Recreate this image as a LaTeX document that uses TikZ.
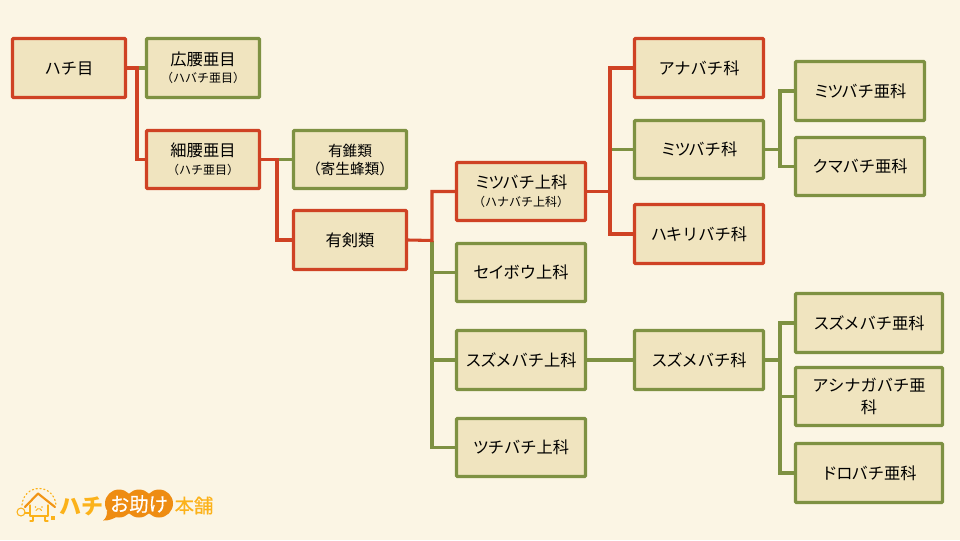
\documentclass[tikz,border=0pt]{standalone}
\usepackage{fontspec}
\setmainfont{Noto Sans CJK JP}
\newfontfamily\medf[FakeBold=0.5]{Noto Sans CJK JP}
\definecolor{bgc}{HTML}{FBF5E4}
\definecolor{boxc}{HTML}{F0E4BF}
\definecolor{redc}{HTML}{CF4224}
\definecolor{grnc}{HTML}{7E9142}
\definecolor{logod}{HTML}{EE8C12}
\definecolor{logoy}{HTML}{FBB21A}
\newcommand{\bigtxt}{\fontsize{12.2pt}{15pt}\selectfont}
\newcommand{\smalltxt}{\fontsize{9pt}{12pt}\selectfont}
\newcommand{\ka}{\kern-1.8pt }
\newcommand{\kb}{\kern-0.9pt }
\tikzset{
  x=0.75pt,y=-0.75pt,
  bx/.style={draw,fill=boxc,line width=2.3pt,inner sep=0pt,align=center,rounded corners=0.6pt,font=\bigtxt},
  rbox/.style={bx,draw=redc},
  gbox/.style={bx,draw=grnc},
  rl/.style={draw=redc,line width=2.3pt,line join=miter},
  gl/.style={draw=grnc,line width=2.3pt,line join=miter},
}
\newcommand{\bxnode}[7]{% style name x0 y0 x1 y1 text
  \node[#1,minimum width=(#5-#3-1)*0.75pt,minimum height=(#6-#4-1)*0.75pt] (#2) at ({(#3+#5)/2},{(#4+#6)/2}) {\vbox{\kern3pt\hbox{\begin{tabular}{@{}c@{}}#7\end{tabular}}}};}
\begin{document}
\begin{tikzpicture}
\useasboundingbox[fill=bgc] (0,0) rectangle (960,540);
% junctions
\coordinate (j1) at (137,68);
\coordinate (j2) at (277,159.5);
\coordinate (j3) at (432,240.5);
\coordinate (j4) at (610,191.5);
\coordinate (j5) at (780,149.5);
\coordinate (j6) at (780,360);
% boxes
\bxnode{rbox}{hachi}{12}{38}{126}{98}{ハチ目}
\bxnode{gbox}{kosi}{146}{38}{260}{98}{広腰亜目\\[-2.2pt]{\smalltxt （ハバチ亜目）}}
\bxnode{rbox}{sai}{146}{130}{260}{189}{細腰亜目\\[-2.2pt]{\smalltxt （ハチ亜目）}}
\bxnode{gbox}{yusui}{293}{130}{407}{189}{\fontsize{11pt}{15pt}\selectfont 有錐類\\[-1pt]\fontsize{11pt}{15pt}\selectfont （寄生蜂類）}
\bxnode{rbox}{yuken}{293}{210}{407}{270}{有剣類}
\bxnode{rbox}{mitsuj}{456}{162}{586}{221}{ミ\ka ツ\ka バチ上科\\[-2.2pt]{\smalltxt （ハナバチ上科）}}
\bxnode{gbox}{seibo}{456}{243}{586}{302}{セ\kb イ\kb ボウ上科}
\bxnode{gbox}{suzuj}{456}{330}{586}{390}{ス\kb ズ\kb メバチ上科}
\bxnode{gbox}{tsuchi}{456}{418}{586}{477}{ツ\kb チバチ上科}
\bxnode{rbox}{ana}{634}{38}{764}{98}{アナバチ科}
\bxnode{gbox}{mitsuk}{634}{120}{764}{179}{ミ\ka ツ\ka バチ科}
\bxnode{rbox}{hakiri}{634}{204}{764}{264}{ハ\kb キリバチ科}
\bxnode{gbox}{suzuk}{634}{330}{764}{390}{ス\kb ズ\kb メバチ科}
\bxnode{gbox}{mitsua}{795}{61}{925}{121}{ミ\ka ツ\ka バチ亜科}
\bxnode{gbox}{kuma}{795}{137}{925}{196}{ク\kb マ\kb バチ亜科}
\bxnode{gbox}{suzua}{795}{293}{943}{353}{ス\kb ズ\kb メバチ亜科}
\bxnode{gbox}{ashi}{795}{367}{943}{426}{アシナガバチ亜\\[1.5pt]科}
\bxnode{gbox}{doro}{795}{443}{943}{503}{ド\kb ロ\kb バチ亜科}
% green connectors (beneath)
\draw[gl] (j1) -- (kosi.west);
\draw[gl] (j2) -- (yusui.west);
\draw[gl] (j3) |- (seibo.west);
\draw[gl] (j3) |- (suzuj.west);
\draw[gl] (j3) |- (tsuchi.west);
\draw[gl] (j4 |- mitsuk.west) -- (mitsuk.west);
\draw[gl] (suzuj.east) -- (suzuk.west);
\draw[gl] (mitsuk.east) -- (j5) |- (mitsua.west);
\draw[gl] (j5) |- (kuma.west);
\draw[gl] (suzuk.east) -- (j6) |- (suzua.west);
\draw[gl] (j6) |- (ashi.west);
\draw[gl] (j6) |- (doro.west);
% red connectors
\draw[rl] (hachi.east) -- (j1) |- (sai.west);
\draw[rl] (sai.east) -- (j2) |- (yuken.west);
\draw[rl] (yuken.east) -- (j3) |- (mitsuj.west);
\draw[rl] (mitsuj.east) -- (j4) |- (ana.west);
\draw[rl] (j4) |- (hakiri.west);
% logo icon
\begin{scope}[line cap=round,line join=round]
\draw[logoy,dotted,line width=0.9pt] (22,505) .. controls (24,483) and (54,483) .. (56,505);
\draw[logoy,line width=0.8pt] (30,505) -- (30,516) -- (48,516) -- (48,505);
\draw[logod!80!logoy,line width=1.6pt] (25,507) -- (38,493.5) -- (55,507);
\draw[logoy,line width=0.8pt] (21,512) circle[radius=4];
\draw[logoy,line width=0.8pt] (25,513) -- (30,513);
\draw[logoy,line width=0.8pt] (33,516) -- (33,521) -- (30,521);
\draw[logoy,line width=0.8pt] (45,516) -- (45,521) -- (48,521);
\fill[logoy] (51,516) rectangle (55,520);
\fill[logoy] (35.5,507) circle[radius=0.8] (42,507) circle[radius=0.8];
\draw[logoy,line width=0.7pt] (36,510.5) arc[start angle=200,end angle=340,radius=3];
\end{scope}
% logo bubble
\fill[logod] (119,503.5) circle[radius=14];
\fill[logod] (139,503.5) circle[radius=14];
\fill[logod] (159,503.5) circle[radius=14];
\fill[logod] (103,520.5) .. controls (106,518) and (107,516) .. (107,511) -- (118,516) .. controls (113,519) and (108,521) .. (103,520.5) -- cycle;
\node[font=\bfseries\fontsize{16.5pt}{18pt}\selectfont,text=logoy,inner sep=0pt] (lg1) at (81,506) {ハチ};
\node[font=\medf\fontsize{14.5pt}{18pt}\selectfont,text=white,inner sep=0pt] (lg2) at (139,504) {お助け};
\node[font=\medf\fontsize{14.5pt}{18pt}\selectfont,text=logoy,inner sep=0pt] (lg3) at (194,505.5) {本舗};
\end{tikzpicture}
\end{document}
